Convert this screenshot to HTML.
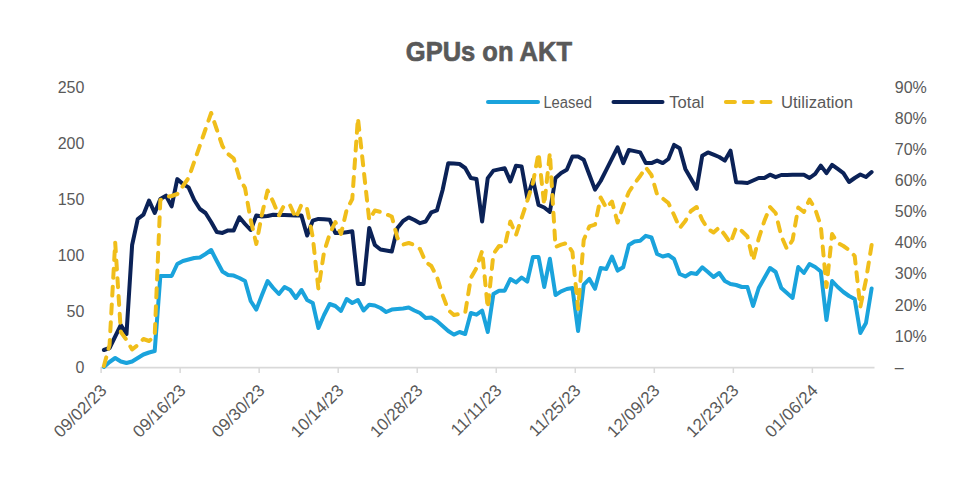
<!DOCTYPE html>
<html><head><meta charset="utf-8"><style>
html,body{margin:0;padding:0;background:#fff;}
svg{display:block;}
text{font-family:"Liberation Sans",sans-serif;}
.ax{font-size:16px;fill:#595959;}
.lg{font-size:16px;fill:#595959;}
.xl{font-size:17px;fill:#595959;}
.tt{font-size:28.5px;font-weight:bold;fill:#595959;stroke:#595959;stroke-width:0.7px;}
</style></head><body>
<svg width="976" height="483" viewBox="0 0 976 483">
<rect width="976" height="483" fill="#fff"/>
<text x="405.8" y="60.6" class="tt" textLength="166.2" lengthAdjust="spacingAndGlyphs">GPUs on AKT</text>

<line x1="488" y1="102" x2="538" y2="102" stroke="#1AA3DC" stroke-width="4" stroke-linecap="round"/>
<text x="543.4" y="107.6" class="lg" textLength="48.5" lengthAdjust="spacingAndGlyphs">Leased</text>
<line x1="613.5" y1="102" x2="662.5" y2="102" stroke="#0B2257" stroke-width="4" stroke-linecap="round"/>
<text x="669.3" y="107.6" class="lg" textLength="35" lengthAdjust="spacingAndGlyphs">Total</text>
<line x1="725.9" y1="102" x2="772" y2="102" stroke="#F0BE1A" stroke-width="4" stroke-dasharray="9 8.8" stroke-linecap="round"/>
<text x="781" y="107.6" class="lg" textLength="72" lengthAdjust="spacingAndGlyphs">Utilization</text>

<text x="84.4" y="372.80" text-anchor="end" class="ax">0</text><text x="84.4" y="316.78" text-anchor="end" class="ax">50</text><text x="84.4" y="260.76" text-anchor="end" class="ax">100</text><text x="84.4" y="204.74" text-anchor="end" class="ax">150</text><text x="84.4" y="148.72" text-anchor="end" class="ax">200</text><text x="84.4" y="92.70" text-anchor="end" class="ax">250</text><text x="894.8" y="372.80" class="ax">–</text><text x="894.8" y="341.68" class="ax">10%</text><text x="894.8" y="310.56" class="ax">20%</text><text x="894.8" y="279.44" class="ax">30%</text><text x="894.8" y="248.32" class="ax">40%</text><text x="894.8" y="217.20" class="ax">50%</text><text x="894.8" y="186.08" class="ax">60%</text><text x="894.8" y="154.96" class="ax">70%</text><text x="894.8" y="123.84" class="ax">80%</text><text x="894.8" y="92.72" class="ax">90%</text><line x1="101" y1="367.6" x2="874.5" y2="367.6" stroke="#d9d9d9" stroke-width="1.6"/><line x1="101.10" y1="367" x2="101.10" y2="373" stroke="#d9d9d9" stroke-width="1.5"/><text transform="translate(103.40,387.5) rotate(-45)" text-anchor="end" class="xl" y="5.9">09/02/23</text><line x1="180.13" y1="367" x2="180.13" y2="373" stroke="#d9d9d9" stroke-width="1.5"/><text transform="translate(182.43,387.5) rotate(-45)" text-anchor="end" class="xl" y="5.9">09/16/23</text><line x1="259.16" y1="367" x2="259.16" y2="373" stroke="#d9d9d9" stroke-width="1.5"/><text transform="translate(261.46,387.5) rotate(-45)" text-anchor="end" class="xl" y="5.9">09/30/23</text><line x1="338.19" y1="367" x2="338.19" y2="373" stroke="#d9d9d9" stroke-width="1.5"/><text transform="translate(340.49,387.5) rotate(-45)" text-anchor="end" class="xl" y="5.9">10/14/23</text><line x1="417.22" y1="367" x2="417.22" y2="373" stroke="#d9d9d9" stroke-width="1.5"/><text transform="translate(419.52,387.5) rotate(-45)" text-anchor="end" class="xl" y="5.9">10/28/23</text><line x1="496.25" y1="367" x2="496.25" y2="373" stroke="#d9d9d9" stroke-width="1.5"/><text transform="translate(498.55,387.5) rotate(-45)" text-anchor="end" class="xl" y="5.9">11/11/23</text><line x1="575.28" y1="367" x2="575.28" y2="373" stroke="#d9d9d9" stroke-width="1.5"/><text transform="translate(577.58,387.5) rotate(-45)" text-anchor="end" class="xl" y="5.9">11/25/23</text><line x1="654.31" y1="367" x2="654.31" y2="373" stroke="#d9d9d9" stroke-width="1.5"/><text transform="translate(656.61,387.5) rotate(-45)" text-anchor="end" class="xl" y="5.9">12/09/23</text><line x1="733.34" y1="367" x2="733.34" y2="373" stroke="#d9d9d9" stroke-width="1.5"/><text transform="translate(735.64,387.5) rotate(-45)" text-anchor="end" class="xl" y="5.9">12/23/23</text><line x1="812.37" y1="367" x2="812.37" y2="373" stroke="#d9d9d9" stroke-width="1.5"/><text transform="translate(814.67,387.5) rotate(-45)" text-anchor="end" class="xl" y="5.9">01/06/24</text>

<polyline points="103.90,367.00 109.55,362.00 115.19,358.00 120.84,361.50 126.48,363.00 132.12,361.50 137.77,358.00 143.42,354.50 149.06,352.50 154.70,351.00 160.35,276.00 166.00,276.00 171.64,276.00 177.28,264.00 182.93,261.00 188.57,259.50 194.22,258.00 199.87,257.50 205.51,254.00 211.16,250.00 216.80,261.00 222.44,271.50 228.09,275.00 233.73,275.60 239.38,278.00 245.03,281.00 250.67,301.00 256.31,309.60 261.96,295.00 267.61,281.00 273.25,288.00 278.89,294.00 284.54,287.00 290.19,290.00 295.83,298.00 301.48,290.00 307.12,300.00 312.76,303.00 318.41,328.00 324.05,315.00 329.70,304.00 335.35,306.00 340.99,311.00 346.63,299.00 352.28,303.00 357.92,300.00 363.57,310.50 369.22,304.70 374.86,305.50 380.50,308.00 386.15,312.00 391.79,309.60 397.44,309.00 403.09,308.50 408.73,307.50 414.38,310.50 420.02,313.00 425.66,318.00 431.31,317.50 436.95,321.00 442.60,326.00 448.25,331.00 453.89,334.60 459.53,332.00 465.18,334.00 470.82,313.00 476.47,314.70 482.12,310.60 487.76,332.00 493.40,294.00 499.05,290.70 504.69,290.70 510.34,279.00 515.99,282.40 521.63,277.50 527.27,281.60 532.92,257.00 538.56,257.00 544.21,287.00 549.86,258.80 555.50,295.00 561.14,291.30 566.79,289.00 572.43,288.00 578.08,331.00 583.73,284.70 589.37,278.90 595.01,288.80 600.66,268.10 606.30,268.90 611.95,256.50 617.59,270.60 623.24,267.30 628.88,244.90 634.53,241.60 640.17,240.80 645.82,235.80 651.46,237.50 657.11,254.00 662.75,256.50 668.40,255.00 674.04,259.00 679.69,274.00 685.33,276.40 690.98,273.10 696.62,273.90 702.27,267.30 707.91,272.00 713.56,277.00 719.20,273.00 724.85,281.00 730.49,284.00 736.14,285.00 741.78,287.00 747.43,287.00 753.07,306.00 758.72,288.00 764.36,278.00 770.01,268.00 775.65,272.00 781.30,288.00 786.94,293.00 792.59,298.00 798.23,267.00 803.88,273.00 809.52,264.00 815.17,267.00 820.81,271.50 826.46,320.00 832.10,281.00 837.75,287.00 843.39,292.00 849.04,296.00 854.68,299.00 860.33,333.00 865.97,323.00 871.62,288.50" fill="none" stroke="#1AA3DC" stroke-width="4" stroke-linecap="round" stroke-linejoin="round"/>
<polyline points="103.90,350.00 109.55,348.00 115.19,336.50 120.84,325.00 126.48,334.00 132.12,245.00 137.77,219.00 143.42,214.70 149.06,200.60 154.70,213.00 160.35,199.00 166.00,195.70 171.64,206.40 177.28,179.10 182.93,184.00 188.57,187.40 194.22,200.00 199.87,209.00 205.51,213.00 211.16,222.00 216.80,232.10 222.44,232.90 228.09,230.40 233.73,230.40 239.38,217.20 245.03,224.00 250.67,230.00 256.31,215.60 261.96,216.50 267.61,216.00 273.25,214.80 278.89,214.96 284.54,215.12 290.19,215.28 295.83,215.44 301.48,215.60 307.12,235.50 312.76,220.60 318.41,218.90 324.05,219.35 329.70,219.80 335.35,233.00 340.99,233.00 346.63,232.15 352.28,231.30 357.92,284.00 363.57,284.00 369.22,228.00 374.86,245.00 380.50,249.50 386.15,250.50 391.79,251.50 397.44,228.00 403.09,221.00 408.73,217.40 414.38,220.00 420.02,223.20 425.66,221.50 431.31,212.40 436.95,210.40 442.60,190.00 448.25,163.20 453.89,163.60 459.53,164.00 465.18,168.00 470.82,178.10 476.47,178.90 482.12,221.50 487.76,178.10 493.40,170.60 499.05,169.40 504.69,168.20 510.34,181.40 515.99,165.70 521.63,166.50 527.27,198.00 532.92,179.80 538.56,205.00 544.21,207.50 549.86,212.00 555.50,178.00 561.14,173.00 566.79,169.80 572.43,156.50 578.08,156.50 583.73,159.80 589.37,174.70 595.01,189.60 600.66,181.00 606.30,169.80 611.95,158.60 617.59,147.40 623.24,163.10 628.88,149.90 634.53,151.15 640.17,152.40 645.82,163.10 651.46,163.10 657.11,160.60 662.75,163.10 668.40,159.00 674.04,144.90 679.69,148.20 685.33,168.90 690.98,178.85 696.62,188.80 702.27,155.70 707.91,152.40 713.56,154.70 719.20,157.00 724.85,160.60 730.49,150.70 736.14,182.20 741.78,182.60 747.43,183.00 753.07,180.50 758.72,178.00 764.36,178.00 770.01,174.70 775.65,177.20 781.30,175.00 786.94,174.93 792.59,174.85 798.23,174.77 803.88,174.70 809.52,178.00 815.17,173.90 820.81,165.60 826.46,173.10 832.10,164.80 837.75,168.90 843.39,173.10 849.04,182.00 854.68,178.00 860.33,174.50 865.97,177.00 871.62,172.00" fill="none" stroke="#0B2257" stroke-width="4" stroke-linecap="round" stroke-linejoin="round"/>
<polyline points="103.90,366.00 109.55,345.00 115.19,242.50 120.84,332.00 126.48,340.00 132.12,349.50 137.77,345.00 143.42,339.00 149.06,341.00 154.70,336.00 160.35,200.00 166.00,197.00 171.64,196.00 177.28,194.00 182.93,186.00 188.57,178.00 194.22,161.75 199.87,145.50 205.51,129.25 211.16,113.00 216.80,129.50 222.44,146.00 228.09,154.00 233.73,158.50 239.38,178.00 245.03,188.00 250.67,220.00 256.31,244.00 261.96,214.00 267.61,190.50 273.25,202.00 278.89,215.50 284.54,204.50 290.19,205.50 295.83,218.00 301.48,204.50 307.12,209.00 312.76,237.00 318.41,289.00 324.05,252.00 329.70,234.00 335.35,222.00 340.99,234.00 346.63,210.00 352.28,199.00 357.92,118.00 363.57,169.00 369.22,220.00 374.86,210.50 380.50,212.00 386.15,214.25 391.79,216.50 397.44,238.00 403.09,244.60 408.73,243.00 414.38,245.00 420.02,249.00 425.66,262.00 431.31,266.00 436.95,277.00 442.60,295.00 448.25,310.00 453.89,315.00 459.53,314.00 465.18,313.00 470.82,278.00 476.47,268.00 482.12,251.00 487.76,308.00 493.40,254.00 499.05,246.00 504.69,246.50 510.34,221.50 515.99,235.00 521.63,218.00 527.27,201.00 532.92,183.00 538.56,153.00 544.21,205.00 549.86,153.00 555.50,247.00 561.14,244.60 566.79,243.00 572.43,252.00 578.08,309.00 583.73,240.00 589.37,226.40 595.01,224.70 600.66,197.50 606.30,208.00 611.95,201.50 617.59,222.50 623.24,206.00 628.88,192.00 634.53,183.50 640.17,176.00 645.82,167.50 651.46,175.00 657.11,194.50 662.75,198.50 668.40,203.00 674.04,215.00 679.69,228.00 685.33,221.00 690.98,211.00 696.62,207.00 702.27,220.00 707.91,229.00 713.56,232.50 719.20,227.50 724.85,235.00 730.49,243.00 736.14,227.50 741.78,231.00 747.43,236.50 753.07,260.50 758.72,238.50 764.36,221.00 770.01,207.00 775.65,213.00 781.30,236.00 786.94,249.00 792.59,240.00 798.23,207.50 803.88,212.00 809.52,199.50 815.17,209.00 820.81,226.00 826.46,287.00 832.10,234.00 837.75,243.00 843.39,246.00 849.04,250.00 854.68,256.00 860.33,307.00 865.97,280.00 871.62,245.00" fill="none" stroke="#F0BE1A" stroke-width="4" stroke-dasharray="9 8.8" stroke-linecap="round" stroke-linejoin="round"/>

</svg>
</body></html>
